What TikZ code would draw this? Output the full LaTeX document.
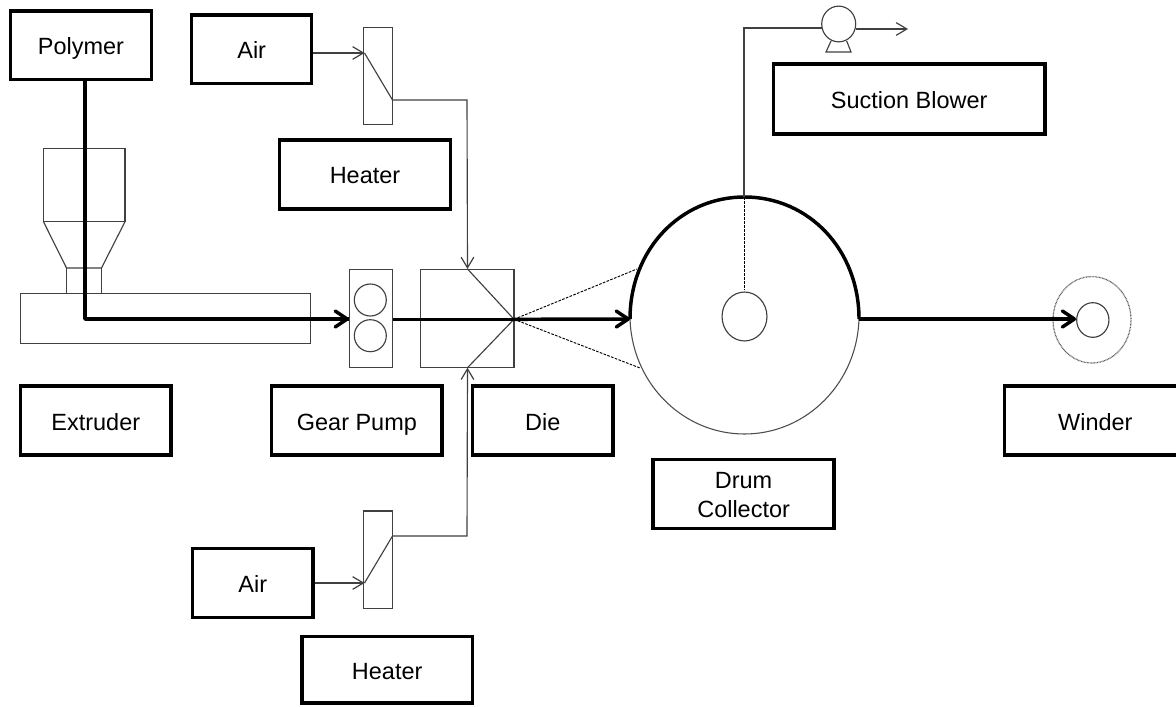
\documentclass[tikz,border=0pt]{standalone}
\usepackage{fontspec}
\setmainfont{Liberation Sans}
\usetikzlibrary{arrows.meta,shapes.geometric}
\tikzset{
  x=0.75pt,y=-0.75pt,
  labelbox/.style={draw=black,line width=2.6pt,inner sep=0pt,align=center,text height=14.4pt,text depth=0pt,font=\fontsize{17.6}{21.75}\selectfont,text=black},
  thinline/.style={draw=black!75,line width=0.85pt},
  flowline/.style={draw=black,line width=2.6pt},
  flowarrow/.style={flowline,-{Straight Barb[length=9pt,width=12pt,line width=2.6pt,round]}},
  airarrow/.style={thinline,-{Straight Barb[length=8pt,width=9.5pt,line width=0.9pt]}},
  dashline/.style={draw=black,line width=0.7pt,dash pattern=on 2pt off 1pt},
}
\newcommand{\lbox}[7][]{\node[labelbox,minimum width=#5*0.75pt-2.6pt,minimum height=#6*0.75pt-2.6pt,#1] (#2) at (#3,#4) {#7};}
\begin{document}
\begin{tikzpicture}
\useasboundingbox (0,0) rectangle (1176,706);
\fill[white] (0,0) rectangle (1176,706);
% extruder body
\draw[thinline] (43.5,148.5) rectangle (125,221.7);
\draw[thinline] (43.5,221.7) -- (66.5,268) -- (101.5,268) -- (125,221.7);
\draw[thinline] (66.5,268) -- (66.5,293) (101.5,268) -- (101.5,293);
\node[thinline,draw,minimum width=218pt,minimum height=37.8pt,inner sep=0pt] (barrel) at (165.5,318.3) {};
% gear pump
\node[thinline,draw,minimum width=32.2pt,minimum height=74pt,inner sep=0pt] (pump) at (371,318.4) {};
\node[thinline,draw,circle,minimum size=24pt,inner sep=0pt] (gearA) at (370.3,300) {};
\node[thinline,draw,circle,minimum size=24pt,inner sep=0pt] (gearB) at (370.3,335.7) {};
% die
\node[thinline,draw,minimum width=70pt,minimum height=74pt,inner sep=0pt] (dieblock) at (467.3,318.4) {};
\coordinate (dietip) at (514,319.3);
\coordinate (dieT) at (467.5,269);
\coordinate (dieB) at (467.5,367.7);
\draw[thinline] (dieT) -- (dietip) -- (dieB);
% heaters
\node[thinline,draw,minimum width=21.6pt,minimum height=72.4pt,inner sep=0pt] (heatT) at (378.1,76) {};
\node[thinline,draw,minimum width=21.6pt,minimum height=73.2pt,inner sep=0pt] (heatB) at (378.1,559.8) {};
\coordinate (hTin) at (364.5,53);
\coordinate (hTout) at (392.5,100);
\coordinate (hBin) at (364.5,583);
\coordinate (hBout) at (392.5,536);
\draw[thinline] (hTin) -- (hTout);
\draw[thinline] (hBin) -- (hBout);
% drum
\coordinate (drumL) at (630,319);
\coordinate (drumR) at (859,319);
\coordinate (drumTop) at (744.5,197);
\draw[black!70,line width=0.8pt] (744.5,315.5) ellipse [x radius=114.5,y radius=118.5];
\draw[black,line width=2.6pt] (drumL) .. controls (630,250) and (680,197) .. (drumTop) .. controls (809,197) and (859,250) .. (drumR);
\node[thinline,draw,ellipse,minimum width=33.7pt,minimum height=36.7pt,inner sep=0pt] (hub) at (744.5,316.5) {};
\draw[dashline] (dietip) -- (637,269);
\draw[dashline] (dietip) -- (640,368);
% winder
\node[thinline,draw,ellipse,minimum width=24.2pt,minimum height=26pt,inner sep=0pt] (roll) at (1092.8,320) {};
\draw[black!65,line width=0.9pt,dash pattern=on 0.6pt off 0.5pt] (1092,319.8) ellipse [x radius=39,y radius=43.2];
% blower
\node[thinline,draw,ellipse,minimum width=25.5pt,minimum height=26.8pt,inner sep=0pt] (blower) at (838.7,24) {};
\draw[thinline] (831,41) -- (826,52) -- (851,52) -- (846.7,41);
\coordinate (bend) at (744,28);
\coordinate (blowerOut) at (908,29);
\draw[thinline] (drumTop -| bend) -- (bend) -- (821.9,28);
\draw[airarrow] (855.6,29) -- (blowerOut);
\draw[dashline] (drumTop -| bend) -- ([yshift=1.5pt]hub.north -| bend);
% labels
\lbox{polymer}{81}{45.3}{144}{72}{Polymer}
\lbox{airT}{251.7}{49.2}{123.5}{72}{Air}
\lbox{heaterT}{365}{174.3}{174}{72.5}{Heater}
\lbox{suction}{909.2}{99}{275}{73.5}{Suction Blower}
\lbox{extruder}{95.8}{420.5}{154}{72.5}{Extruder}
\lbox{gear}{356.9}{420.5}{174}{72.5}{Gear Pump}
\lbox{dielbl}{542.7}{420.5}{144}{72.5}{Die}
\lbox[text height=36pt]{drumlbl}{743.6}{493.8}{184.7}{72.5}{Drum\\Collector}
\lbox{winder}{1095.3}{420.5}{184.6}{72.5}{Winder}
\lbox{airB}{252.8}{583}{124.3}{72.6}{Air}
\lbox{heaterB}{387.2}{669.8}{174.3}{70}{Heater}
% connectors
\coordinate (polyDrop) at (85,80);
\coordinate (polyBend) at (85,319);
\draw[flowline,line join=round] (polyDrop) -- (polyBend) -- (pump.west |- polyBend);
\draw[flowarrow] (300,319) -- (pump.west |- polyBend);
\draw[flowline] (pump.east |- dietip) -- (dietip);
\draw[flowarrow] (dietip) -- (drumL);
\draw[flowarrow] (drumR) -- (roll.west |- drumR);
\draw[airarrow] (airT.east |- hTin) -- (hTin);
\draw[airarrow] (airB.east |- hBin) -- (hBin);
\draw[airarrow] (hTout) -- (467,100) -- (dieT);
\draw[airarrow] (hBout) -- (467,536) -- (dieB);
\end{tikzpicture}
\end{document}
